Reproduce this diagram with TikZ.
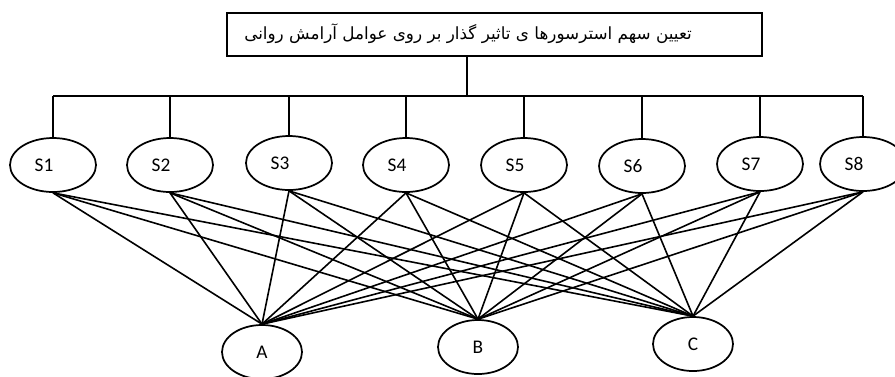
\documentclass[tikz,border=0pt]{standalone}
\usepackage{fontspec}
\setmainfont{Carlito}
\newfontfamily\farsifont[Script=Arabic]{DejaVu Sans}
\TeXXeTstate=1
\usetikzlibrary{shapes.geometric}
\tikzset{
  stressor/.style={ellipse, draw, line width=1.3pt, minimum width=64.5pt, minimum height=40.5pt, inner sep=0pt},
  factor/.style={ellipse, draw, line width=1.3pt, minimum width=60pt, minimum height=40.5pt, inner sep=0pt},
  lbl/.style={font=\fontsize{14.5}{16}\selectfont},
  link/.style={line width=1.2pt},
}

\begin{document}
\begin{tikzpicture}[x=0.75pt, y=-0.75pt]
    \useasboundingbox (0,0) rectangle (895,376);

    % title
    \node[draw, line width=1.3pt, minimum width=401.25pt, minimum height=32.25pt, inner sep=0pt] (title) at (494.5,34.5) {};
    \node[font=\farsifont\fontsize{12.6}{14}\selectfont, inner sep=0pt] (titletext) at (468,34)
        {\beginR تعیین سهم استرسورها ی تاثیر گذار بر روی عوامل آرامش روانی\endR};

    % stressors
    \foreach \n/\x/\y in {1/53/165, 2/170/165, 3/289/163, 4/406/165, 5/524/165, 6/642/166, 7/760/164, 8/863/164}
        \node[stressor, label={[lbl, xshift=-6.75pt]center:S\n}] (s\n) at (\x,\y) {};

    % factors
    \node[factor, lbl] (a) at (262,352) {A};
    \node[factor, lbl] (b) at (478,347) {B};
    \node[factor, lbl] (c) at (693,344) {C};

    % tree
    \coordinate (drop) at (467,96);
    \draw[line width=2.2pt] (drop |- title.south) -- (drop);
    \draw[line width=1.6pt] (s1 |- drop) -- (s8 |- drop);
    \foreach \i in {1,...,8}
        \draw[line width=1.3pt] (s\i |- drop) -- (s\i.north);

    \foreach \i in {1,...,8}
        \foreach \f in {a,b,c}
            \draw[link] (s\i.south) -- (\f.north);
\end{tikzpicture}
\end{document}
